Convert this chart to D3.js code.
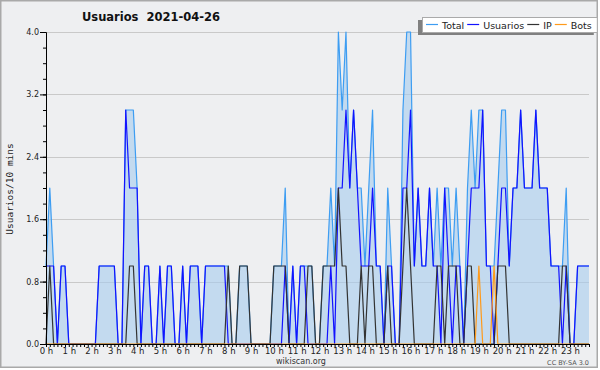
<!DOCTYPE html>
<html>
<head>
<meta charset="utf-8">
<script src="https://cdn.jsdelivr.net/npm/d3@7"></script>
<style>
body { margin: 0; background: #fff; }
svg { display: block; font-family: "DejaVu Sans", sans-serif; }
</style>
</head>
<body>
<svg id="chart" width="600" height="370"></svg>
<script>
// Usuarios por intervalos de 10 minutos (144 puntos, 6 por hora)
var TITLE = 'Usuarios  2021-04-26';
var Y_LABEL = 'Usuarios/10 mins';
var SERIES_NAMES = ['Total', 'Usuarios', 'IP', 'Bots'];
var SERIES_COLORS = ['#3d9df2', '#1212ff', '#333333', '#ff9a1a'];
var Y_TICKS = [0, 0.8, 1.6, 2.4, 3.2, 4.0];
var HOUR_LABELS = d3.range(24).map(h => h + ' h');

var total = [
  1,2,1,0,1,1,  0,0,0,0,0,0,  0,0,1,1,1,1,  1,0,0,3,3,3,
  2,0,1,1,0,0,  1,0,1,1,0,0,  1,0,1,1,1,0,  1,1,1,1,1,1,
  1,0,0,1,1,1,  0,0,0,0,0,0,  1,1,1,2,0,1,  0,1,1,1,1,0,
  0,1,1,2,1,4,  3,4,2,3,2,2,  1,2,3,1,1,0,  2,1,0,0,3,4,
  4,1,2,1,1,2,  1,2,1,2,2,1,  2,1,0,2,3,2,  3,3,1,1,1,2,
  3,3,1,2,2,3,  2,2,2,3,2,2,  2,1,1,1,1,2,  0,0,1,1,1,1
];
var usuarios = [
  1,1,1,0,1,1,  0,0,0,0,0,0,  0,0,1,1,1,1,  1,0,0,3,2,2,
  2,0,1,1,0,0,  1,0,1,1,0,0,  1,0,1,1,1,0,  1,1,1,1,1,1,
  0,0,0,0,0,0,  0,0,0,0,0,0,  0,0,0,1,0,1,  0,1,1,0,0,0,
  0,0,0,1,0,2,  2,3,2,3,2,1,  1,1,2,1,1,0,  1,1,0,0,2,2,
  3,1,2,1,1,2,  1,1,0,2,1,0,  1,1,0,1,2,2,  2,3,1,1,0,1,
  2,2,1,2,2,3,  2,2,2,3,2,2,  2,1,1,1,0,1,  0,0,1,1,1,1
];
var ip = [
  0,1,0,0,0,0,  0,0,0,0,0,0,  0,0,0,0,0,0,  0,0,0,0,1,1,
  0,0,0,0,0,0,  0,0,0,0,0,0,  0,0,0,0,0,0,  0,0,0,0,0,0,
  1,0,0,1,1,1,  0,0,0,0,0,0,  1,1,1,1,0,0,  0,0,0,1,1,0,
  0,1,1,1,1,2,  1,1,0,0,0,1,  0,1,1,0,0,0,  1,0,0,0,1,2,
  1,0,0,0,0,0,  0,1,1,0,1,1,  1,0,0,1,1,0,  0,0,0,0,0,1,
  1,1,0,0,0,0,  0,0,0,0,0,0,  0,0,0,0,1,1,  0,0,0,0,0,0
];
var bots = [
  0,0,0,0,0,0,  0,0,0,0,0,0,  0,0,0,0,0,0,  0,0,0,0,0,0,
  0,0,0,0,0,0,  0,0,0,0,0,0,  0,0,0,0,0,0,  0,0,0,0,0,0,
  0,0,0,0,0,0,  0,0,0,0,0,0,  0,0,0,0,0,0,  0,0,0,0,0,0,
  0,0,0,0,0,0,  0,0,0,0,0,0,  0,0,0,0,0,0,  0,0,0,0,0,0,
  0,0,0,0,0,0,  0,0,0,0,0,0,  0,0,0,0,0,0,  1,0,0,0,1,0,
  0,0,0,0,0,0,  0,0,0,0,0,0,  0,0,0,0,0,0,  0,0,0,0,0,0
];

var WIDTH = 600, HEIGHT = 370;
var X0 = 46, X1 = 589, Y0 = 344, Y1 = 32;

var svg = d3.select('#chart');

// fondo y marco
svg.append('rect')
   .attr('x', 0.75).attr('y', 0.75)
   .attr('width', 596.5).attr('height', 366.5)
   .attr('fill', '#eeeff1')
   .attr('stroke', '#a9a9a9')
   .attr('stroke-width', 1.5);

var x = d3.scaleLinear().domain([0, total.length - 1]).range([X0, X1]);
var y = d3.scaleLinear().domain([0, 4]).range([Y0, Y1]);

// lineas de la grilla
svg.append('g').selectAll('line')
   .data(Y_TICKS.filter(d => d > 0))
   .enter().append('line')
   .attr('x1', X0).attr('x2', X1)
   .attr('y1', d => Math.round(y(d)) + 0.5)
   .attr('y2', d => Math.round(y(d)) + 0.5)
   .attr('stroke', '#c9c9c9');

// area del total
var area = d3.area()
             .x((d, i) => x(i))
             .y0(Y0)
             .y1(d => y(d));
svg.append('path')
   .attr('d', area(total))
   .attr('fill', '#a6ccef')
   .attr('fill-opacity', 0.6);

var line = d3.line().x((d, i) => x(i)).y(d => y(d));
var series = [total, usuarios, ip, bots];
series.forEach((s, k) => {
  svg.append('path')
     .attr('d', line(s))
     .attr('fill', 'none')
     .attr('stroke', SERIES_COLORS[k])
     .attr('stroke-width', 1.2)
     .attr('stroke-linejoin', 'round');
});

// ejes
var yAxis = svg.append('g')
               .attr('transform', `translate(${X0},0)`)
               .call(d3.axisLeft(y).tickValues(Y_TICKS)
                       .tickFormat(d3.format('.1f'))
                       .tickSize(6).tickSizeOuter(0).tickPadding(1));
var yMinor = svg.append('g')
                .attr('transform', `translate(${X0},0)`)
                .call(d3.axisLeft(y).tickValues(d3.range(0, 4.01, 0.2))
                        .tickFormat('').tickSize(3).tickSizeOuter(0));
var xAxis = svg.append('g')
               .attr('transform', `translate(0,${Y0})`)
               .call(d3.axisBottom(x).tickValues(d3.range(total.length))
                       .tickFormat(i => i % 6 === 0 ? HOUR_LABELS[i / 6] : '')
                       .tickSize(3).tickSizeOuter(0).tickPadding(1));

[yAxis, yMinor, xAxis].forEach(g => {
  g.selectAll('path, line').attr('stroke', '#000');
  g.selectAll('text')
   .attr('fill', '#222')
   .style('font-family', '"DejaVu Sans", sans-serif');
});
yAxis.selectAll('text').style('font-size', '8px');
xAxis.selectAll('text').style('font-size', '8.5px');

// titulo
svg.append('text')
   .attr('x', 151).attr('y', 21)
   .attr('text-anchor', 'middle')
   .style('font-size', '11.5px')
   .style('font-weight', 'bold')
   .style('white-space', 'pre')
   .attr('fill', '#111')
   .text(TITLE);

// etiqueta del eje Y
svg.append('text')
   .attr('transform', 'translate(13,189) rotate(-90)')
   .attr('text-anchor', 'middle')
   .style('font-family', '"DejaVu Sans Mono", monospace')
   .style('font-size', '9.5px')
   .attr('fill', '#222')
   .text(Y_LABEL);

// pie
svg.append('text')
   .attr('x', 301).attr('y', 364)
   .attr('text-anchor', 'middle')
   .style('font-size', '8px')
   .attr('fill', '#333')
   .text('wikiscan.org');
svg.append('text')
   .attr('x', 589).attr('y', 365)
   .attr('text-anchor', 'end')
   .style('font-size', '6.5px')
   .attr('fill', '#555')
   .text('CC BY-SA 3.0');

// leyenda
var legendG = svg.append('g');
var shadow = legendG.append('rect').attr('fill', '#808080');
var box = legendG.append('rect').attr('fill', '#fff').attr('stroke', '#aaa');
var lx = 426;
SERIES_NAMES.forEach((name, k) => {
  legendG.append('line')
         .attr('x1', lx).attr('x2', lx + 12)
         .attr('y1', 24.5).attr('y2', 24.5)
         .attr('stroke', SERIES_COLORS[k])
         .attr('stroke-width', 1.2);
  var t = legendG.append('text')
                 .attr('x', lx + 16).attr('y', 28.5)
                 .style('font-size', '9.5px')
                 .attr('fill', '#222')
                 .text(name);
  lx += 16 + t.node().getComputedTextLength() + 3;
});
var bw = lx + 2 - 422;
box.attr('x', 422.5).attr('y', 17.5).attr('width', bw).attr('height', 15);
shadow.attr('x', 418).attr('y', 20).attr('width', bw + 1).attr('height', 15);
</script>
</body>
</html>
